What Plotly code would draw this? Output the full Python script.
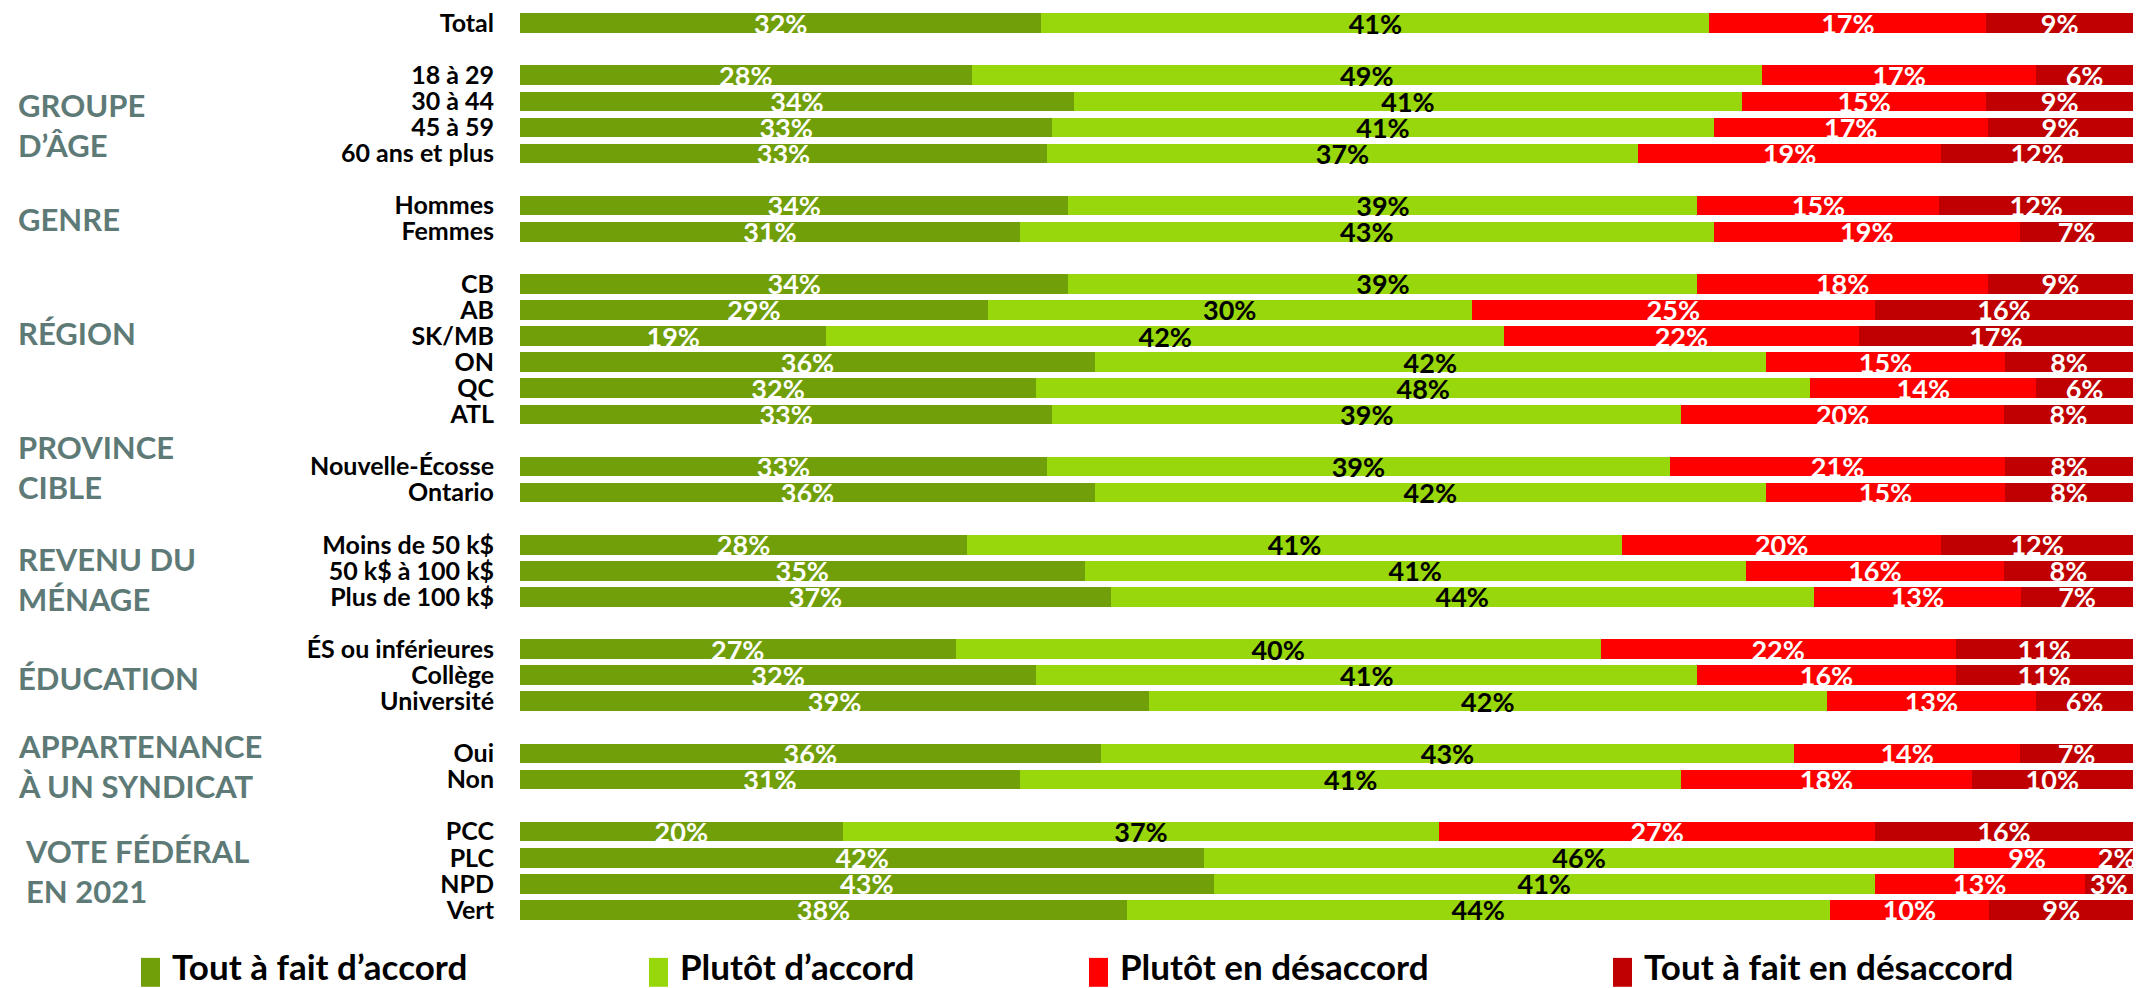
import plotly.graph_objects as go

# ---------------- data ----------------
row_labels = [
    "Total",
    "18 à 29", "30 à 44", "45 à 59", "60 ans et plus",
    "Hommes", "Femmes",
    "CB", "AB", "SK/MB", "ON", "QC", "ATL",
    "Nouvelle-Écosse", "Ontario",
    "Moins de 50 k$", "50 k$ à 100 k$", "Plus de 100 k$",
    "ÉS ou inférieures", "Collège", "Université",
    "Oui", "Non",
    "PCC", "PLC", "NPD", "Vert",
]
tout_accord = [32, 28, 34, 33, 33, 34, 31, 34, 29, 19, 36, 32, 33, 33, 36,
               28, 35, 37, 27, 32, 39, 36, 31, 20, 42, 43, 38]
plutot_accord = [41, 49, 41, 41, 37, 39, 43, 39, 30, 42, 42, 48, 39, 39, 42,
                 41, 41, 44, 40, 41, 42, 43, 41, 37, 46, 41, 44]
plutot_desaccord = [17, 17, 15, 17, 19, 15, 19, 18, 25, 22, 15, 14, 20, 21, 15,
                    20, 16, 13, 22, 16, 13, 14, 18, 27, 9, 13, 10]
tout_desaccord = [9, 6, 9, 9, 12, 12, 7, 9, 16, 17, 8, 6, 8, 8, 8,
                  12, 8, 7, 11, 11, 6, 7, 10, 16, 2, 3, 9]

group_titles = ["", "GROUPE<br>D’ÂGE", "GENRE", "RÉGION", "PROVINCE<br>CIBLE",
                "REVENU DU<br>MÉNAGE", "ÉDUCATION", "APPARTENANCE<br>À UN SYNDICAT",
                "VOTE FÉDÉRAL<br>EN 2021"]
group_sizes = [1, 4, 2, 6, 2, 3, 3, 2, 4]

series_names = ["Tout à fait d’accord", "Plutôt d’accord",
                "Plutôt en désaccord", "Tout à fait en désaccord"]

# ---------------- style / layout constants ----------------
colors = ["#709F0A", "#98D70C", "#FF0000", "#C00000"]
text_colors = ["white", "black", "white", "white"]
FONT = "Lato"
W, H = 2143, 988
ML, MR, MT, MB = 520, 10, 7, 65
group_label_offset = [0, 1.9, 0.5, 1.9, 0.0, 1.3, 1.1, 0.5, 1.5]
group_label_px = [16, 16, 16, 16, 16, 16, 16, 16, 23]
legend_square_px = [141, 649, 1089, 1613]


def px_x(px):
    return (px - ML) / (W - ML - MR)


def px_y(py):
    return (H - MB - py) / (H - MT - MB)


# slot positions (one empty slot between groups)
ypos = []
group_first = []
s = 0
for size in group_sizes:
    group_first.append(s)
    for _ in range(size):
        ypos.append(s)
        s += 1
    s += 1
last_slot = ypos[-1]

series = [tout_accord, plutot_accord, plutot_desaccord, tout_desaccord]
totals = [sum(v) for v in zip(*series)]

fig = go.Figure()
for name, vals, col, tcol in zip(series_names, series, colors, text_colors):
    fig.add_trace(go.Bar(
        y=ypos,
        x=[v / t * 100 for v, t in zip(vals, totals)],
        orientation="h",
        name=name,
        marker=dict(color=col, line=dict(width=0)),
        text=[f"{v}%" for v in vals],
        textposition="inside",
        insidetextanchor="middle",
        textangle=0,
        constraintext="none",
        cliponaxis=False,
        textfont=dict(family=FONT, size=27, color=tcol, weight="bold"),
        showlegend=False,
        hovertemplate="%{text}<extra>" + name + "</extra>",
    ))

annotations = []
for title, first, off, xpx in zip(group_titles, group_first, group_label_offset, group_label_px):
    if not title:
        continue
    annotations.append(dict(
        text=title, xref="paper", yref="y", x=px_x(xpx), y=first + off,
        xanchor="left", yanchor="middle", align="left", showarrow=False,
        font=dict(family=FONT, size=31, color="#5E7A77", weight="bold"),
    ))

shapes = []
for name, col, xpx in zip(series_names, colors, legend_square_px):
    shapes.append(dict(
        type="rect", xref="paper", yref="paper",
        x0=px_x(xpx), x1=px_x(xpx + 19), y0=px_y(987), y1=px_y(958),
        fillcolor=col, line=dict(width=0),
    ))
    annotations.append(dict(
        text=name, xref="paper", yref="paper", x=px_x(xpx + 29), y=px_y(966),
        xanchor="left", yanchor="middle", showarrow=False,
        font=dict(family=FONT, size=35, color="black", weight="bold"),
    ))

fig.update_layout(
    width=W, height=H,
    margin=dict(l=ML, r=MR, t=MT, b=MB, pad=0),
    barmode="stack",
    bargap=0.25,
    plot_bgcolor="white",
    paper_bgcolor="white",
    xaxis=dict(range=[0, 100.001], visible=False, fixedrange=True),
    yaxis=dict(
        range=[last_slot + 0.5, -0.5],
        tickmode="array", tickvals=ypos, ticktext=row_labels,
        tickfont=dict(family=FONT, size=25, color="black", weight="bold"),
        ticklabelstandoff=25,
        showgrid=False, zeroline=False, showline=False, ticks="",
        fixedrange=True,
    ),
    annotations=annotations,
    shapes=shapes,
    font=dict(family=FONT),
)

fig.write_html("out.html", config={"displayModeBar": False},
               post_script="document.body.style.margin='0';")
